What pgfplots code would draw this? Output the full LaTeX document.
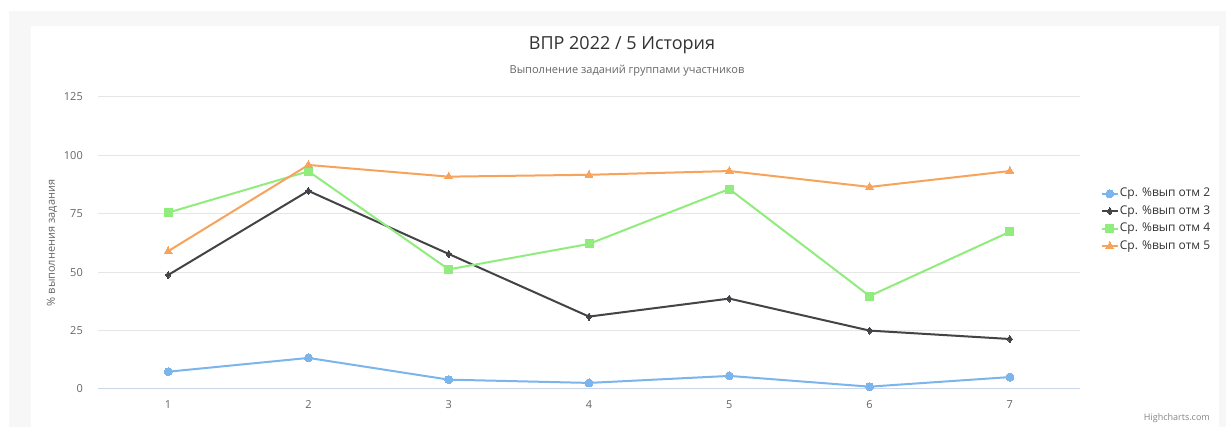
\documentclass[border=0pt]{standalone}
\usepackage{pgfplots}
\pgfplotsset{compat=1.18}
\usepackage{fontspec}
\setmainfont{Open Sans}
\definecolor{hcblue}{HTML}{7CB5EC}
\definecolor{hcblack}{HTML}{434348}
\definecolor{hcgreen}{HTML}{90ED7D}
\definecolor{hcorange}{HTML}{F7A35C}
\definecolor{hcgrid}{HTML}{E6E6E6}
\definecolor{hcaxis}{HTML}{CCD6EB}
\definecolor{hctext}{HTML}{666666}
\definecolor{hctitle}{HTML}{333333}
\definecolor{hcframe}{HTML}{F7F7F7}
\begin{document}
\begin{tikzpicture}[x=1pt,y=1pt]
\path[use as bounding box] (0,0) rectangle (1226,427);
\fill[white] (0,0) rectangle (1226,427);
\fill[hcframe] (9,0) rectangle (1226,416);
\fill[white] (31,0) rectangle (1219,401);
\node[text=hctitle, font=\fontsize{18}{22}\selectfont] at (622,382) {ВПР 2022 / 5 История};
\node[text=hctext, font=\fontsize{11}{13}\selectfont] at (627,356) {Выполнение заданий группами участников};
\node[text=hctext!80, font=\fontsize{9}{11}\selectfont, anchor=east, inner sep=0pt] at (1210,9) {Highcharts.com};
\begin{axis}[
  at={(98pt,38pt)}, anchor=south west,
  scale only axis, width=982pt, height=292pt,
  xmin=0.5, xmax=7.5, ymin=0, ymax=125,
  xtick={1,...,7}, ytick={0,25,50,75,100,125},
  axis line style={draw=none},
  axis x line*=bottom, axis y line*=left,
  x axis line style={draw=hcaxis, line width=1pt},
  major tick length=0pt,
  ymajorgrids, grid style={hcgrid, line width=1pt},
  /pgf/number format/assume math mode=true,
  tick label style={text=hctext, font=\fontsize{11}{13}\selectfont},
  yticklabel style={anchor=east, inner sep=0pt, xshift=-15pt},
  xticklabel style={anchor=north, inner sep=0pt, yshift=-11pt},
  ylabel={\% выполнения задания},
  ylabel style={at={(axis description cs:0,0.5)}, anchor=center, rotate=0, yshift=46pt, text=hctext, font=\fontsize{11}{13}\selectfont},
  clip=false,
  legend cell align=left,
  legend style={at={(axis description cs:1.018,0.7)}, anchor=north west, draw=none, fill=none,
    font=\fontsize{12}{14}\selectfont, text=hctitle, row sep=3.5pt,
    nodes={inner sep=1pt, text height=9pt, text depth=3pt}},
  legend image code/.code={\draw[mark repeat=2,mark phase=2] plot coordinates {(0pt,0pt)(8pt,0pt)(16pt,0pt)};},
  every axis plot/.append style={line width=2pt},
]
\addplot[hcblue, mark=*, mark size=4pt, mark options={line width=0pt, fill=hcblue}] coordinates {
(1,7.4) (2,13.3) (3,4.0) (4,2.6) (5,5.6) (6,1.0) (7,5.1)};
\addlegendentry{Ср. \%вып отм 2}
\addplot[hcblack, mark=diamond*, mark size=3.5pt, mark options={line width=0pt, fill=hcblack}] coordinates {
(1,48.8) (2,84.8) (3,57.8) (4,31.0) (5,38.7) (6,25.0) (7,21.4)};
\addlegendentry{Ср. \%вып отм 3}
\addplot[hcgreen, mark=square*, mark size=4pt, mark options={line width=0pt, fill=hcgreen}] coordinates {
(1,75.5) (2,93.2) (3,51.2) (4,62.1) (5,85.6) (6,39.8) (7,67.3)};
\addlegendentry{Ср. \%вып отм 4}
\addplot[hcorange, mark=triangle*, mark size=4.5pt, mark options={line width=0pt, fill=hcorange}] coordinates {
(1,59.0) (2,95.9) (3,90.9) (4,91.7) (5,93.3) (6,86.5) (7,93.3)};
\addlegendentry{Ср. \%вып отм 5}
\end{axis}
\end{tikzpicture}
\end{document}
